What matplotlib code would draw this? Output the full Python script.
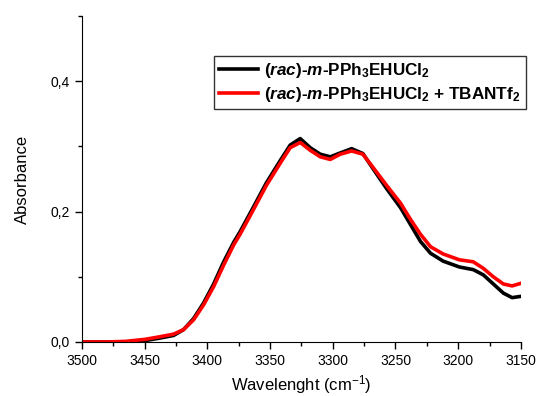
import numpy as np
import matplotlib
matplotlib.use('Agg')
import matplotlib.pyplot as plt
from matplotlib.ticker import MultipleLocator, FuncFormatter

plt.rcParams['font.family'] = ['Liberation Sans', 'DejaVu Sans']
plt.rcParams['mathtext.fontset'] = 'custom'
plt.rcParams['mathtext.rm'] = 'Liberation Sans'
plt.rcParams['mathtext.it'] = 'Liberation Sans:italic:bold'
plt.rcParams['mathtext.bf'] = 'Liberation Sans:bold'

# 波数
wavenumber = [3500, 3480, 3465, 3455, 3450, 3438, 3427, 3419, 3411, 3403, 3395, 3387,
              3379, 3374, 3363, 3353, 3342, 3334, 3326, 3318, 3310, 3302, 3294, 3285,
              3276, 3268, 3257, 3246, 3238, 3230, 3222, 3212, 3199, 3188, 3180, 3172,
              3164, 3157, 3150]
# 样品吸光度
abs_black = [0.0, 0.0, 0.0, 0.001, 0.002, 0.006, 0.010, 0.019, 0.036, 0.060, 0.089, 0.123,
             0.153, 0.169, 0.208, 0.244, 0.278, 0.302, 0.312, 0.298, 0.288, 0.284, 0.290, 0.2965,
             0.289, 0.266, 0.235, 0.206, 0.180, 0.154, 0.136, 0.124, 0.115, 0.111, 0.103, 0.089,
             0.075, 0.068, 0.070]
# 加 TBANTf2 后
abs_red = [0.0, 0.0, 0.001, 0.003, 0.004, 0.008, 0.012, 0.019, 0.034, 0.057, 0.085, 0.118,
           0.149, 0.165, 0.204, 0.240, 0.274, 0.298, 0.306, 0.294, 0.284, 0.280, 0.288, 0.293,
           0.288, 0.268, 0.240, 0.213, 0.188, 0.165, 0.146, 0.135, 0.126, 0.123, 0.113, 0.100,
           0.089, 0.086, 0.090]

label_black = r'($\mathit{rac}$)-$\mathit{m}$-PPh$_\mathbf{3}$EHUCl$_\mathbf{2}$'
label_red = r'($\mathit{rac}$)-$\mathit{m}$-PPh$_\mathbf{3}$EHUCl$_\mathbf{2}$ + TBANTf$_\mathbf{2}$'

fig = plt.figure(figsize=(5.37, 3.96), dpi=100)
ax = fig.add_axes([0.1527, 0.1364, 0.8173, 0.8232])

ax.plot(wavenumber, abs_black, color='black', lw=2.6, solid_joinstyle='round', label=label_black)
ax.plot(wavenumber, abs_red, color='red', lw=2.6, solid_joinstyle='round', label=label_red)

ax.set_xlim(3500, 3150)
ax.set_ylim(0, 0.5)
ax.xaxis.set_major_locator(MultipleLocator(50))
ax.xaxis.set_minor_locator(MultipleLocator(25))
ax.yaxis.set_major_locator(MultipleLocator(0.2))
ax.yaxis.set_minor_locator(MultipleLocator(0.1))
ax.yaxis.set_major_formatter(FuncFormatter(lambda v, p: f'{v:.1f}'.replace('.', ',')))
ax.tick_params(which='major', direction='out', length=5, width=1, labelsize=10)
ax.tick_params(which='minor', direction='out', length=3, width=1)
ax.spines['top'].set_visible(False)
ax.spines['right'].set_visible(False)

ax.set_xlabel(r'Wavelenght (cm$^{-1}$)', fontsize=12, labelpad=4)
ax.set_ylabel('Absorbance', fontsize=12, labelpad=15)

leg = ax.legend(loc='upper right', bbox_to_anchor=(1.0114, 0.877),
                prop={'weight': 'bold', 'size': 12.3}, frameon=True, fancybox=False,
                edgecolor='black', handlelength=2.3, borderpad=0.3,
                labelspacing=0.3, handletextpad=0.35, borderaxespad=0)
leg.get_frame().set_linewidth(1.0)

fig.savefig('out.png', dpi=100)
